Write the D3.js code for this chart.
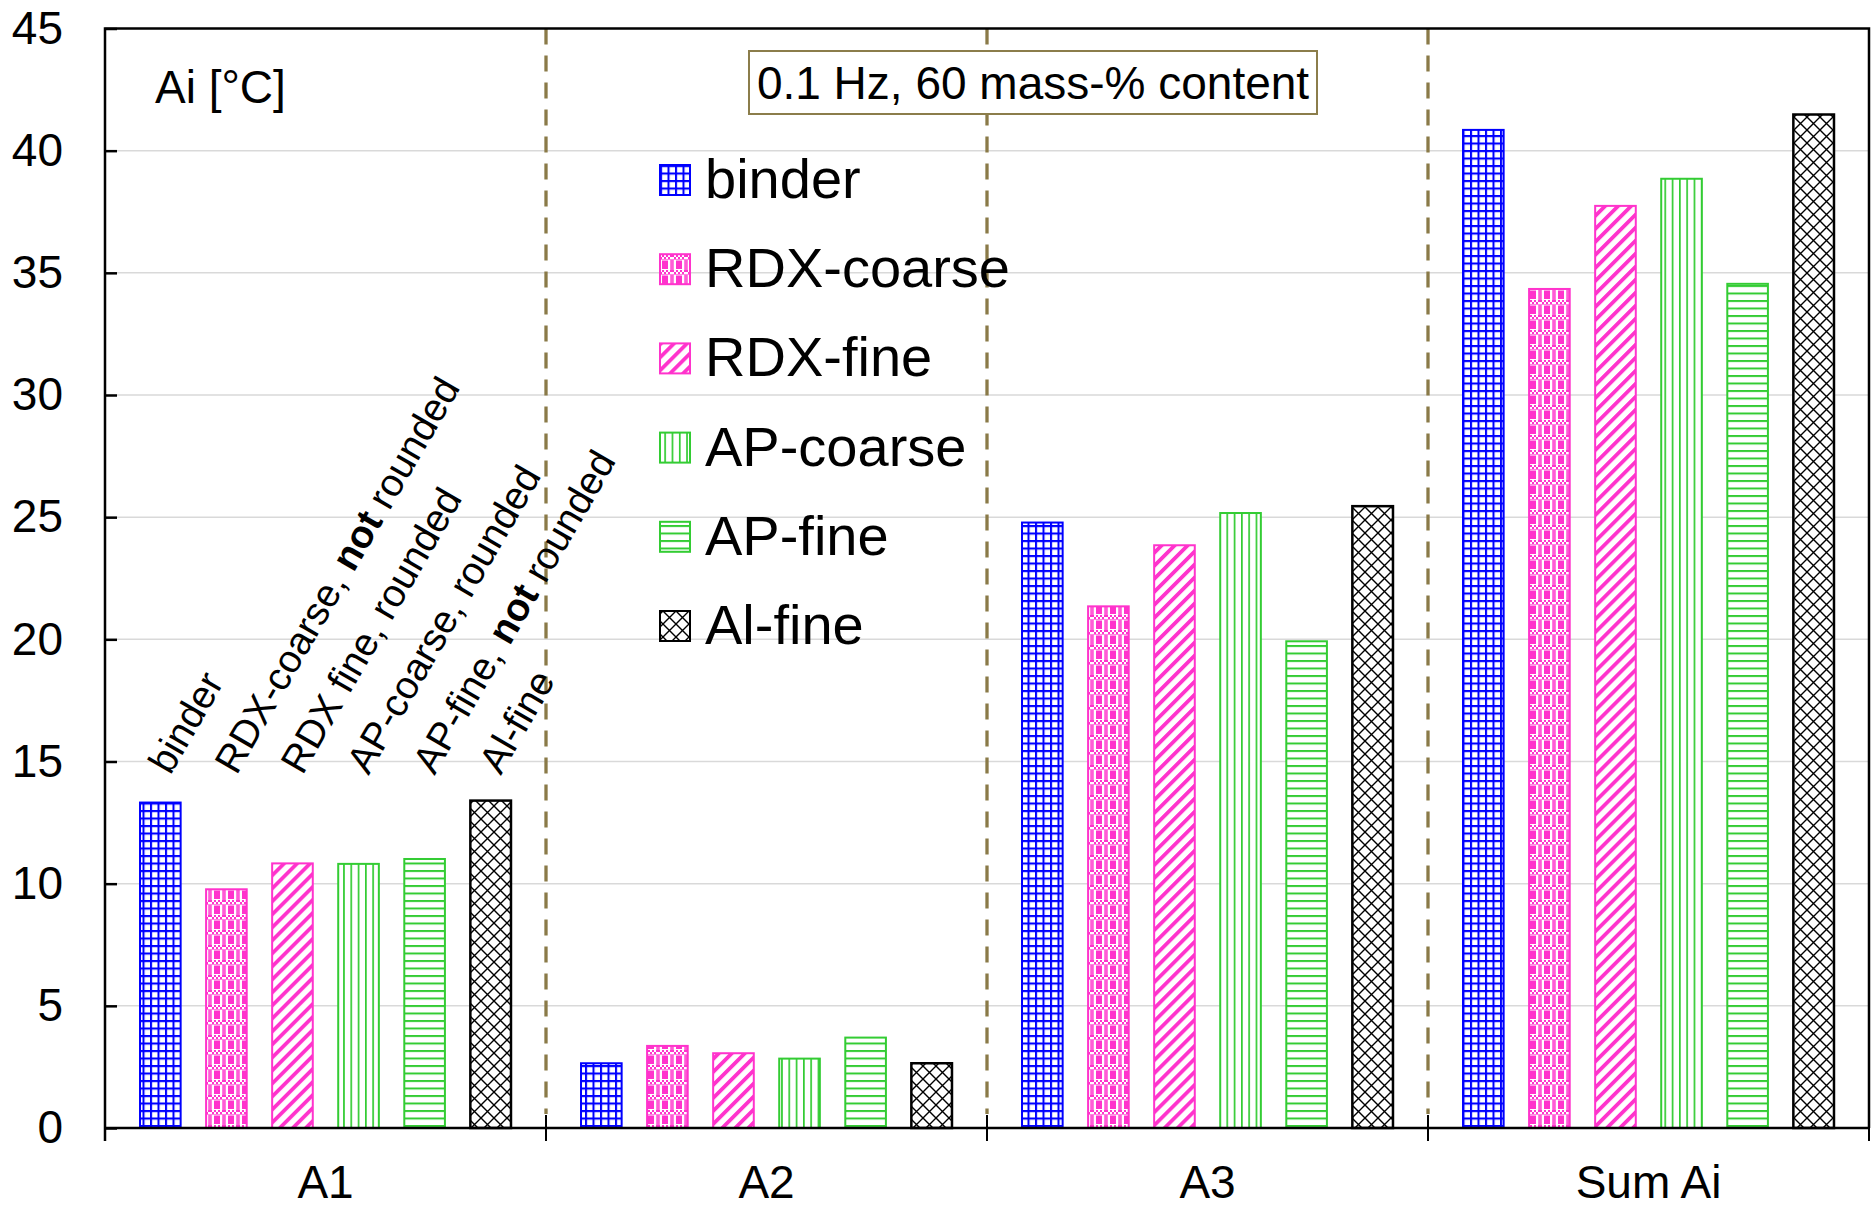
<!DOCTYPE html>
<html><head><meta charset="utf-8">
<script src="https://cdn.jsdelivr.net/npm/d3@7"></script>
<style>body{margin:0;background:#fff} svg{display:block} text{font-family:"Liberation Sans",Arial,sans-serif;}</style>
</head><body>
<svg id="chart" width="1874" height="1207"></svg>
<script>
// ---- data ----
const groups = ["A1", "A2", "A3", "Sum Ai"];
const seriesNames = ["binder", "RDX-coarse", "RDX-fine", "AP-coarse", "AP-fine", "Al-fine"];
const binderVals    = [13.32, 2.65, 24.78, 40.85];
const rdxCoarseVals = [9.77, 3.36, 21.35, 34.34];
const rdxFineVals   = [10.83, 3.06, 23.85, 37.74];
const apCoarseVals  = [10.81, 2.84, 25.17, 38.85];
const apFineVals    = [11.01, 3.70, 19.92, 34.55];
const alFineVals    = [13.40, 2.65, 25.45, 41.48];
const yTicks = [0, 5, 10, 15, 20, 25, 30, 35, 40, 45];
const barLabelParts = [
  [["binder", false]],
  [["RDX-coarse, ", false], ["not", true], [" rounded", false]],
  [["RDX fine, rounded", false]],
  [["AP-coarse, rounded", false]],
  [["AP-fine, ", false], ["not", true], [" rounded", false]],
  [["Al-fine", false]]
];
const annotationText = "0.1 Hz, 60 mass-% content";
const unitLabel = "Ai [°C]";

const allVals = [binderVals, rdxCoarseVals, rdxFineVals, apCoarseVals, apFineVals, alFineVals];
const colors = ["#0000FF", "#FF33CC", "#FF33CC", "#33CC33", "#33CC33", "#000000"];
const patIds = ["p-binder", "p-rdxc", "p-rdxf", "p-apc", "p-apf", "p-al"];

const svg = d3.select("#chart");
const L = 105, R = 1869, T = 28.5, B = 1128;

const x0 = d3.scaleBand().domain(groups).range([L, R]).padding(0);
const x1 = d3.scaleBand().domain(seriesNames).range([0, x0.bandwidth()]).paddingInner(0.385).paddingOuter(0.53);
const y = d3.scaleLinear().domain([0, 45]).range([B, T]);

// ---- patterns ----
const defs = svg.append("defs");
function pat(id, w, h) {
  const p = defs.append("pattern").attr("id", id).attr("patternUnits", "userSpaceOnUse")
    .attr("width", w).attr("height", h);
  p.append("rect").attr("width", w).attr("height", h).attr("fill", "#fff");
  return p;
}
// binder grid
{
  const p = pat("p-binder", 7.5, 7.5);
  p.append("path").attr("d", "M0,1 H7.5 M1,0 V7.5").attr("stroke", colors[0]).attr("stroke-width", 2.1);
}
// RDX-coarse weave
{
  const p = pat("p-rdxc", 14, 15);
  for (let i = 0; i < 7; i++) {
    p.append("rect").attr("x", i * 2).attr("y", (i % 2) * 2).attr("width", 2).attr("height", 2).attr("fill", colors[1]);
  }
  p.append("rect").attr("x", 0).attr("y", 4).attr("width", 14).attr("height", 1).attr("fill", colors[1]).attr("opacity", 0.6);
  p.append("rect").attr("x", 4).attr("y", 5.5).attr("width", 6).attr("height", 8.5).attr("fill", colors[1]);
  p.append("rect").attr("x", 0).attr("y", 5).attr("width", 1.8).attr("height", 10).attr("fill", colors[1]).attr("opacity", 0.8);
  p.append("rect").attr("x", 12.2).attr("y", 5).attr("width", 1.8).attr("height", 10).attr("fill", colors[1]).attr("opacity", 0.8);
}
// RDX-fine diagonal
{
  const p = defs.append("pattern").attr("id", "p-rdxf").attr("patternUnits", "userSpaceOnUse")
    .attr("width", 9.2).attr("height", 9.2).attr("patternTransform", "rotate(45)");
  p.append("rect").attr("width", 9.2).attr("height", 9.2).attr("fill", "#fff");
  p.append("rect").attr("x", 0).attr("y", 0).attr("width", 3.8).attr("height", 9.2).attr("fill", colors[2]);
}
// AP-coarse vertical
{
  const p = pat("p-apc", 7.3, 10);
  p.append("rect").attr("x", 0).attr("y", 0).attr("width", 1.7).attr("height", 10).attr("fill", colors[3]);
}
// AP-fine horizontal
{
  const p = pat("p-apf", 10, 7.5);
  p.append("rect").attr("x", 0).attr("y", 0).attr("width", 10).attr("height", 2).attr("fill", colors[4]);
}
// Al-fine diamond
{
  const p = pat("p-al", 13, 13);
  p.append("path").attr("d", "M0,0 L13,13 M13,0 L0,13").attr("stroke", "#000").attr("stroke-width", 1.4);
}

// ---- gridlines ----
svg.append("g").selectAll("line").data(yTicks.filter(d => d > 0 && d < 45)).join("line")
  .attr("x1", L).attr("x2", R).attr("y1", d => y(d)).attr("y2", d => y(d))
  .attr("stroke", "#d9d9d9").attr("stroke-width", 1.5);

// ---- dividers ----
svg.append("g").selectAll("line").data(groups.slice(1)).join("line")
  .attr("x1", d => x0(d)).attr("x2", d => x0(d)).attr("y1", T).attr("y2", B - 14)
  .attr("stroke", "#8A7A48").attr("stroke-width", 3.3).attr("stroke-dasharray", "16,11");

// ---- bars ----
const barData = [];
groups.forEach((g, gi) => seriesNames.forEach((s, si) => barData.push({ g, s, si, v: allVals[si][gi] })));
svg.append("g").selectAll("rect").data(barData).join("rect")
  .attr("x", d => x0(d.g) + x1(d.s))
  .attr("y", d => y(d.v))
  .attr("width", x1.bandwidth())
  .attr("height", d => y(0) - y(d.v))
  .attr("fill", d => `url(#${patIds[d.si]})`)
  .attr("stroke", d => colors[d.si])
  .attr("stroke-width", d => d.si === 5 ? 2.5 : 2);

// ---- axes ----
const yAxis = svg.append("g").attr("transform", `translate(${L},0)`)
  .call(d3.axisLeft(y).tickValues(yTicks).tickSizeInner(-12).tickSizeOuter(0).tickPadding(42));
yAxis.select(".domain").remove();
yAxis.selectAll(".tick line").attr("stroke", "#000").attr("stroke-width", 2.5);
yAxis.selectAll(".tick text").attr("font-size", 46).attr("fill", "#000")
  .style("font-family", '"Liberation Sans", Arial, sans-serif');

const xAxis = svg.append("g").attr("transform", `translate(0,${B})`)
  .call(d3.axisBottom(x0).tickSize(0).tickPadding(37));
xAxis.select(".domain").remove();
xAxis.selectAll(".tick text").attr("font-size", 46).attr("fill", "#000")
  .style("font-family", '"Liberation Sans", Arial, sans-serif');

// boundary ticks on x axis
const bounds = groups.map(g => x0(g)).concat([R]);
svg.append("g").selectAll("line").data(bounds).join("line")
  .attr("x1", d => d).attr("x2", d => d).attr("y1", B - 13).attr("y2", B + 13)
  .attr("stroke", "#000").attr("stroke-width", 2);

// frame
svg.append("path").attr("d", `M${L},${B + 13} V${T} H${R} V${B} M${L},${B} H${R}`)
  .attr("fill", "none").attr("stroke", "#000").attr("stroke-width", 2.5);

// ---- rotated labels over A1 ----
const lbl = svg.append("g");
seriesNames.forEach((s, si) => {
  const cx = x0("A1") + x1(s) + x1.bandwidth() / 2 + 10;
  const t = lbl.append("text").attr("transform", `translate(${cx},776) rotate(-60)`)
    .attr("font-size", 39).attr("fill", "#000").attr("xml:space", "preserve");
  barLabelParts[si].forEach(([txt, bold]) => {
    t.append("tspan").text(txt).attr("font-weight", bold ? "bold" : "normal").style("white-space", "pre");
  });
});

// ---- unit label ----
svg.append("text").attr("x", 155).attr("y", 103).attr("font-size", 46).text(unitLabel);

// ---- annotation box ----
svg.append("rect").attr("x", 749).attr("y", 51).attr("width", 568).attr("height", 63)
  .attr("fill", "#fff").attr("stroke", "#8B7D4B").attr("stroke-width", 2);
svg.append("text").attr("x", 1033).attr("y", 99).attr("text-anchor", "middle").attr("font-size", 46).text(annotationText);

// ---- legend ----
const leg = svg.append("g");
seriesNames.forEach((s, si) => {
  const cy = 180 + si * 89.2;
  leg.append("rect").attr("x", 660).attr("y", cy - 15).attr("width", 30).attr("height", 30)
    .attr("fill", `url(#${patIds[si]})`).attr("stroke", colors[si]).attr("stroke-width", 2);
  leg.append("text").attr("x", 705).attr("y", cy + 18).attr("font-size", 56).text(s);
});
</script>
</body></html>
